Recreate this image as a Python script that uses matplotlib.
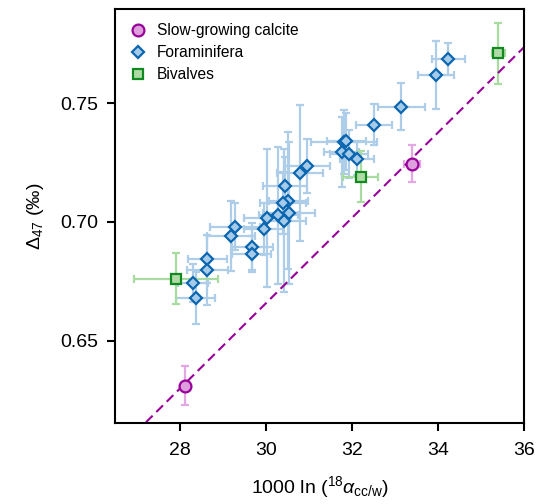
import numpy as np
import matplotlib
matplotlib.use('Agg')
import matplotlib.pyplot as plt

plt.rcParams['font.family'] = ['Liberation Sans', 'DejaVu Sans']
plt.rcParams['mathtext.fontset'] = 'custom'
plt.rcParams['mathtext.rm'] = 'Liberation Sans'
plt.rcParams['mathtext.it'] = 'Liberation Sans:italic'

# slow-growing calcite
calc_x = [28.13, 33.39]
calc_y = [0.6312, 0.7244]
calc_xerr = [0.08, 0.19]
calc_yerr = [0.0080, 0.0078]

# foraminifera
foram_x = [34.24, 33.95, 33.15, 32.51, 31.82, 31.87, 31.76, 31.93, 32.12,
           30.95, 30.79, 30.44, 30.52, 30.40, 30.54, 30.29, 30.42, 30.03,
           29.95, 29.28, 29.18, 29.68, 29.67, 28.64, 28.64, 28.30, 28.37]
foram_y = [0.7685, 0.7618, 0.7485, 0.7409, 0.7335, 0.7340, 0.7295, 0.7286, 0.7266,
           0.7235, 0.7205, 0.7153, 0.7090, 0.7081, 0.7037, 0.7027, 0.7005, 0.7015,
           0.6969, 0.6980, 0.6942, 0.6896, 0.6866, 0.6845, 0.6798, 0.6745, 0.6679]
foram_xerr = [0.39, 0.41, 0.55, 0.41, 0.77, 0.45, 0.40, 0.45, 0.40,
              0.53, 0.54, 0.51, 0.45, 0.54, 0.60, 0.45, 0.50, 0.55,
              0.45, 0.58, 0.56, 0.48, 0.45, 0.45, 0.48, 0.35, 0.45]
foram_yerr = [0.0067, 0.0142, 0.0100, 0.0087, 0.0135, 0.0120, 0.0147, 0.0100, 0.0070,
              0.0113, 0.0287, 0.0120, 0.0290, 0.0130, 0.0300, 0.0290, 0.0300, 0.0290,
              0.0110, 0.0100, 0.0147, 0.0100, 0.0075, 0.0100, 0.0147, 0.0080, 0.0110]

# bivalves
biv_x = [27.91, 32.20, 35.40]
biv_y = [0.6762, 0.7190, 0.7709]
biv_xerr = [0.98, 0.40, 0.155]
biv_yerr = [0.0107, 0.0108, 0.0128]

# calibration line
line_slope = 0.01795
line_icpt = 0.1273

fig = plt.figure(figsize=(5.37, 5.04), dpi=100)
ax = fig.add_axes([0.214, 0.161, 0.762, 0.821])

xmin, xmax = 26.49, 36.0
xx = np.array([xmin, xmax])
ax.plot(xx, line_icpt + line_slope * xx, color='#990099', lw=1.5,
        ls=(0, (4.5, 2.5)), zorder=2)

ax.errorbar(foram_x, foram_y, xerr=foram_xerr, yerr=foram_yerr, fmt='none',
            ecolor='#aecde8', elinewidth=1.6, capsize=3, capthick=1.6, zorder=1)
ax.errorbar(biv_x, biv_y, xerr=biv_xerr, yerr=biv_yerr, fmt='none',
            ecolor='#a8dba0', elinewidth=1.6, capsize=3, capthick=1.6, zorder=1)
ax.errorbar(calc_x, calc_y, xerr=calc_xerr, yerr=calc_yerr, fmt='none',
            ecolor='#e3a8e3', elinewidth=1.6, capsize=3, capthick=1.6, zorder=1)

ax.plot(calc_x, calc_y, 'o', ms=8.5, mfc='#dda0dd', mec='#990099', mew=1.6,
        ls='none', zorder=4, label='Slow-growing calcite')
ax.plot(foram_x, foram_y, 'D', ms=6.5, mfc='#a6cbe8', mec='#0a66b0', mew=1.6,
        ls='none', zorder=4, label='Foraminifera')
ax.plot(biv_x, biv_y, 's', ms=6.5, mfc='#b0dba6', mec='#108a20', mew=1.6,
        ls='none', zorder=4, label='Bivalves')

ax.set_xlim(xmin, xmax)
ax.set_ylim(0.6155, 0.7895)
ax.set_xticks([28, 30, 32, 34, 36])
ax.set_yticks([0.65, 0.70, 0.75])
ax.set_yticklabels(['0.65', '0.70', '0.75'])
ax.tick_params(direction='out', length=6, width=1.5, labelsize=14, pad=6)
ax.tick_params(axis='x', pad=8)
for s in ax.spines.values():
    s.set_linewidth(1.5)

ax.set_xlabel(r'1000 ln ($^{18}\alpha_{\mathrm{cc/w}}$)', fontsize=14, labelpad=11)
ax.set_ylabel(r'$\mathit{\Delta}_{47}$ (‰)', fontsize=14, labelpad=10)

ax.legend(loc='upper left', frameon=False, fontsize=11.2, handletextpad=0.6,
          borderaxespad=0.5, labelspacing=0.45, handlelength=1.2)

fig.savefig('out.png', dpi=100)
